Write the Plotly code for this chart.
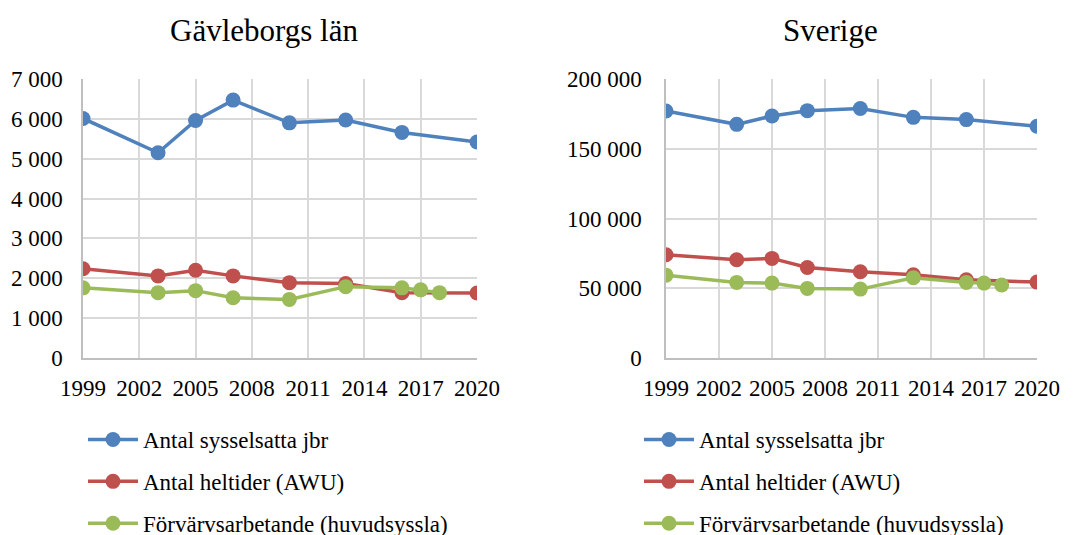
import plotly.graph_objects as go

years_main = [1999, 2003, 2005, 2007, 2010, 2013, 2016, 2020]
years_green = [1999, 2003, 2005, 2007, 2010, 2013, 2016, 2017, 2018]

series_names = ["Antal sysselsatta jbr", "Antal heltider (AWU)", "Förvärvsarbetande (huvudsyssla)"]
colors = ["#4F81BD", "#C0504D", "#9BBB59"]

# Gävleborgs län
g_sysselsatta = [6010, 5150, 5960, 6470, 5900, 5970, 5660, 5420]
g_heltider = [2240, 2060, 2200, 2060, 1890, 1870, 1640, 1630]
g_forvarv = [1760, 1640, 1690, 1510, 1470, 1790, 1760, 1710, 1640]

# Sverige
s_sysselsatta = [177100, 167500, 173500, 177300, 178800, 172500, 170900, 166100]
s_heltider = [74000, 70400, 71400, 64900, 61800, 59700, 56100, 54400]
s_forvarv = [59400, 54200, 53700, 49900, 49400, 57500, 54200, 53700, 52300]

titles = ["Gävleborgs län", "Sverige"]
x_ticks = [1999, 2002, 2005, 2008, 2011, 2014, 2017, 2020]

FONT = "Liberation Serif"
OFF = 8  # page body margin
W, H = 1080 - OFF, 535 - OFF

fig = go.Figure()

panels = [
    ("x", "y", "legend", [g_sysselsatta, g_heltider, g_forvarv]),
    ("x2", "y2", "legend2", [s_sysselsatta, s_heltider, s_forvarv]),
]
for xa, ya, lg, data in panels:
    for i, (name, vals) in enumerate(zip(series_names, data)):
        xs = years_green if i == 2 else years_main
        fig.add_trace(go.Scatter(
            x=xs, y=vals, name=name, mode="lines+markers",
            line=dict(color=colors[i], width=3.5),
            marker=dict(color=colors[i], size=15),
            xaxis=xa, yaxis=ya, legend=lg, legendgroup=lg + str(i),
        ))

def px_x(s):
    return (s - OFF) / W

def px_y(s):
    return 1 - (s - OFF) / H

ydom = [px_y(358), px_y(79)]
axis_common = dict(
    showgrid=True, gridcolor="#D9D9D9", gridwidth=1.5,
    showline=True, linecolor="#BFBFBF", linewidth=1.5,
    tickfont=dict(family=FONT, size=23, color="black"),
    zeroline=False, ticks="", automargin=False,
)

leg_common = dict(xanchor="left", yanchor="top",
                  font=dict(family=FONT, size=23, color="black"),
                  tracegroupgap=9, bgcolor="rgba(0,0,0,0)", itemwidth=50)

fig.update_layout(
    template="none",
    width=W, height=H,
    margin=dict(l=0, r=0, t=0, b=0, autoexpand=False),
    paper_bgcolor="white", plot_bgcolor="white",
    separators=", ",
    font=dict(family=FONT, color="black"),
    xaxis=dict(domain=[px_x(83), px_x(477)], range=[1999, 2020], tickvals=x_ticks,
               anchor="y", ticklabelstandoff=9, **axis_common),
    yaxis=dict(domain=ydom, range=[0, 7000], dtick=1000, tickformat=",d",
               anchor="x", ticklabelstandoff=14, **axis_common),
    xaxis2=dict(domain=[px_x(666), px_x(1037)], range=[1999, 2020], tickvals=x_ticks,
                anchor="y2", ticklabelstandoff=9, **axis_common),
    yaxis2=dict(domain=ydom, range=[0, 200000], dtick=50000, tickformat=",d",
                anchor="x2", ticklabelstandoff=18, **axis_common),
    legend=dict(x=px_x(83), y=px_y(418), **leg_common),
    legend2=dict(x=px_x(639), y=px_y(418), **leg_common),
    annotations=[
        dict(text=titles[0], x=px_x(264), y=px_y(30), xref="paper", yref="paper",
             xanchor="center", yanchor="middle",
             showarrow=False, font=dict(family=FONT, size=31, color="black")),
        dict(text=titles[1], x=px_x(830), y=px_y(30), xref="paper", yref="paper",
             xanchor="center", yanchor="middle",
             showarrow=False, font=dict(family=FONT, size=31, color="black")),
    ],
)

fig.write_html("out.html")
